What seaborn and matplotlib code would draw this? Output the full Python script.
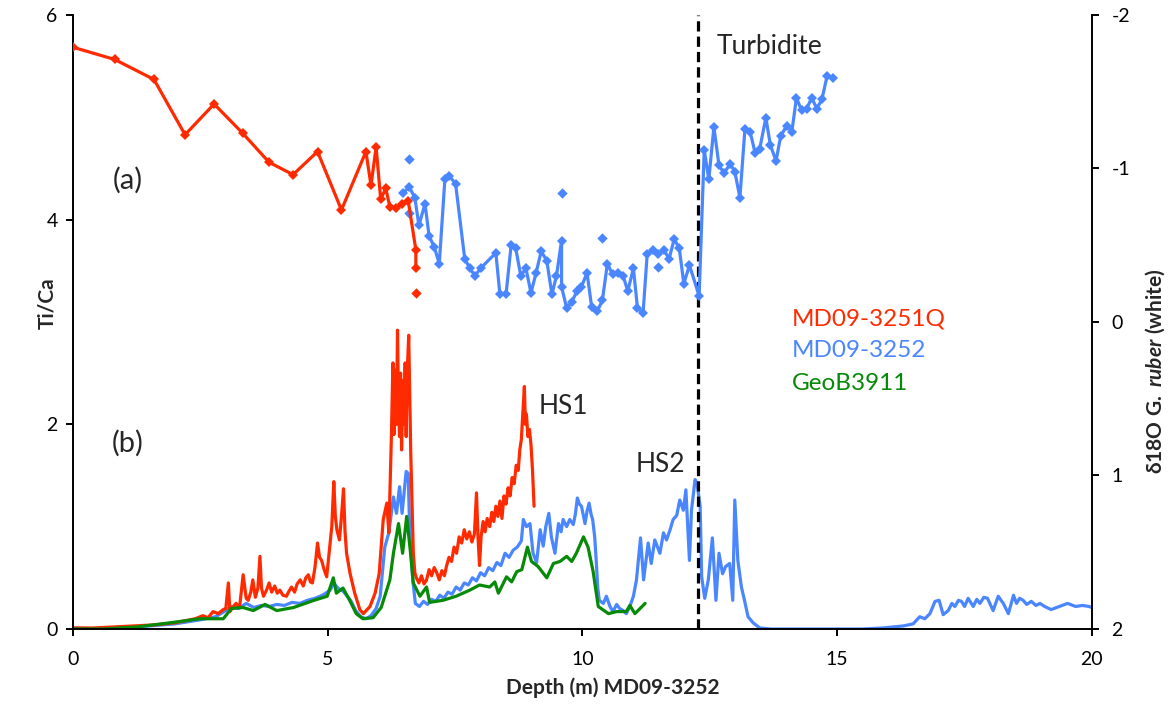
import matplotlib
matplotlib.use("Agg")
import matplotlib.pyplot as plt
import seaborn as sns

# ---------------- data ----------------
# delta18O G. ruber (right axis, top panel)
d18o_3251q_depth = [0.0, 0.82, 1.59, 2.20, 2.77, 3.33, 3.85, 4.32, 4.80, 5.27,
                    5.75, 5.85, 5.95, 6.04, 6.14, 6.22, 6.35, 6.45, 6.58, 6.73,
                    6.73]
d18o_3251q = [-1.79, -1.71, -1.58, -1.22, -1.42, -1.23, -1.04, -0.96, -1.11, -0.73,
              -1.11, -0.89, -1.14, -0.80, -0.87, -0.75, -0.74, -0.77, -0.79, -0.47,
              -0.35]
d18o_3251q_single_depth = [6.73]
d18o_3251q_single = [-0.19]

d18o_3252_depth = [6.48, 6.60, 6.71, 6.79, 6.91, 6.99, 7.09, 7.19, 7.30, 7.39,
                   7.51, 7.69, 7.79, 7.89, 8.00, 8.30, 8.38, 8.50, 8.60, 8.69,
                   8.79, 8.89, 8.99, 9.09, 9.19, 9.30, 9.40, 9.49, 9.59, 9.59,
                   9.69, 9.79, 9.89, 9.98, 10.09, 10.18, 10.29, 10.39, 10.49, 10.59,
                   10.70, 10.80, 10.89, 11.00, 11.08, 11.19, 11.27, 11.39, 11.49, 11.60,
                   11.70, 11.80, 11.90, 11.99, 12.10, 12.29, 12.39, 12.48, 12.58, 12.68,
                   12.78, 12.90, 12.99, 13.09, 13.19, 13.29, 13.39, 13.48, 13.60, 13.69,
                   13.80, 13.89, 14.01, 14.11, 14.20, 14.30, 14.40, 14.50, 14.60, 14.70,
                   14.80, 14.91]
d18o_3252 = [-0.84, -0.88, -0.81, -0.63, -0.77, -0.56, -0.49, -0.38, -0.93, -0.95,
             -0.90, -0.41, -0.35, -0.30, -0.35, -0.45, -0.18, -0.18, -0.50, -0.48,
             -0.30, -0.35, -0.19, -0.32, -0.46, -0.40, -0.18, -0.30, -0.53, -0.23,
             -0.09, -0.13, -0.20, -0.23, -0.32, -0.10, -0.07, -0.14, -0.38, -0.31,
             -0.32, -0.30, -0.20, -0.35, -0.09, -0.06, -0.44, -0.47, -0.44, -0.47,
             -0.41, -0.54, -0.48, -0.25, -0.37, -0.17, -1.12, -0.93, -1.27, -1.02,
             -0.97, -1.03, -0.98, -0.81, -1.26, -1.24, -1.10, -1.13, -1.33, -1.15,
             -1.05, -1.21, -1.28, -1.24, -1.46, -1.38, -1.39, -1.46, -1.39, -1.45,
             -1.60, -1.59]
d18o_3252_single_depth = [6.60, 6.60, 9.59, 10.39, 11.49]
d18o_3252_single = [-1.06, -0.71, -0.84, -0.55, -0.36]

# Ti/Ca (left axis, bottom panel)
tica_3251q_depth = [0.0, 0.4, 0.8, 1.2, 1.6, 2.0, 2.2, 2.4, 2.55, 2.65,
                    2.75, 2.85, 2.95, 3.0, 3.05, 3.08, 3.15, 3.2, 3.27, 3.34,
                    3.40, 3.44, 3.49, 3.53, 3.58, 3.63, 3.67, 3.70, 3.74, 3.80,
                    3.85, 3.90, 3.96, 4.01, 4.06, 4.12, 4.19, 4.24, 4.29, 4.35,
                    4.40, 4.46, 4.52, 4.57, 4.62, 4.66, 4.70, 4.75, 4.80, 4.84,
                    4.88, 4.93, 4.98, 5.04, 5.08, 5.12, 5.15, 5.18, 5.23, 5.27,
                    5.31, 5.34, 5.37, 5.44, 5.53, 5.63, 5.70, 5.83, 5.93, 6.01,
                    6.09, 6.16, 6.20, 6.25, 6.28, 6.30, 6.32, 6.35, 6.37, 6.39,
                    6.41, 6.43, 6.45, 6.48, 6.50, 6.52, 6.54, 6.56, 6.59, 6.61,
                    6.63, 6.68, 6.71, 6.74, 6.79, 6.84, 6.89, 6.94, 6.99, 7.04,
                    7.09, 7.14, 7.19, 7.24, 7.29, 7.33, 7.38, 7.43, 7.48, 7.53,
                    7.58, 7.63, 7.68, 7.73, 7.78, 7.83, 7.88, 7.92, 7.95, 7.98,
                    8.01, 8.05, 8.09, 8.13, 8.18, 8.22, 8.26, 8.30, 8.34, 8.38,
                    8.42, 8.46, 8.50, 8.54, 8.58, 8.62, 8.66, 8.70, 8.74, 8.77,
                    8.80, 8.83, 8.86, 8.88, 8.90, 8.93, 8.96, 8.99, 9.02, 9.05]
tica_3251q = [0.01, 0.01, 0.02, 0.03, 0.04, 0.06, 0.08, 0.10, 0.13, 0.11,
              0.17, 0.15, 0.19, 0.20, 0.45, 0.17, 0.22, 0.25, 0.21, 0.53,
              0.30, 0.28, 0.36, 0.48, 0.31, 0.40, 0.71, 0.40, 0.32, 0.38,
              0.45, 0.36, 0.42, 0.35, 0.38, 0.33, 0.32, 0.37, 0.41, 0.36,
              0.44, 0.48, 0.42, 0.50, 0.53, 0.46, 0.45, 0.60, 0.84, 0.70,
              0.67, 0.58, 0.51, 0.80, 1.00, 1.44, 1.10, 0.97, 0.87, 1.10,
              1.37, 0.95, 0.74, 0.54, 0.35, 0.19, 0.15, 0.22, 0.35, 0.54,
              1.07, 1.23, 0.94, 1.88, 2.60, 1.90, 2.53, 2.00, 2.92, 2.20,
              1.88, 2.50, 1.75, 2.43, 2.00, 2.60, 1.88, 2.50, 2.87, 2.30,
              1.72, 0.74, 0.55, 0.50, 0.45, 0.52, 0.44, 0.48, 0.58, 0.52,
              0.60, 0.55, 0.48, 0.57, 0.52, 0.61, 0.70, 0.66, 0.80, 0.74,
              0.90, 0.84, 0.97, 0.88, 0.95, 0.85, 0.93, 1.33, 0.90, 0.62,
              0.90, 1.05, 0.95, 1.08, 1.00, 1.14, 1.05, 1.20, 1.10, 1.25,
              1.08, 1.30, 1.22, 1.38, 1.30, 1.48, 1.42, 1.60, 1.55, 1.75,
              1.85, 2.11, 2.37, 2.00, 2.10, 1.88, 1.95, 1.80, 1.55, 1.20]

tica_3252_depth = [0.0, 0.5, 1.0, 1.5, 2.0, 2.5, 2.8, 3.0, 3.1, 3.25,
                   3.4, 3.55, 3.7, 3.85, 4.0, 4.15, 4.3, 4.45, 4.6, 4.75,
                   4.9, 5.05, 5.12, 5.2, 5.3, 5.45, 5.55, 5.65, 5.75, 5.85,
                   5.95, 6.03, 6.12, 6.2, 6.29, 6.35, 6.41, 6.46, 6.54, 6.58,
                   6.61, 6.67, 6.72, 6.80, 6.88, 6.96, 7.04, 7.12, 7.20, 7.28,
                   7.36, 7.44, 7.52, 7.60, 7.68, 7.76, 7.84, 7.92, 8.00, 8.08,
                   8.16, 8.24, 8.32, 8.40, 8.48, 8.56, 8.64, 8.72, 8.80, 8.84,
                   8.90, 8.97, 9.03, 9.10, 9.17, 9.23, 9.28, 9.34, 9.39, 9.46,
                   9.53, 9.58, 9.62, 9.69, 9.75, 9.82, 9.86, 9.90, 9.94, 9.98,
                   10.02, 10.05, 10.09, 10.13, 10.17, 10.20, 10.24, 10.27, 10.30, 10.33,
                   10.41, 10.47, 10.54, 10.60, 10.67, 10.73, 10.80, 10.86, 10.93, 11.00,
                   11.06, 11.14, 11.20, 11.29, 11.35, 11.42, 11.52, 11.59, 11.65, 11.72,
                   11.78, 11.85, 11.91, 11.98, 12.03, 12.10, 12.14, 12.21, 12.25, 12.31,
                   12.34, 12.40, 12.47, 12.55, 12.62, 12.68, 12.75, 12.81, 12.89, 12.95,
                   12.99, 13.05, 13.12, 13.18, 13.25, 13.35, 13.48, 13.7, 14.0, 14.5,
                   15.0, 15.5, 15.9, 16.1, 16.3, 16.49, 16.62, 16.72, 16.82, 16.92,
                   17.0, 17.08, 17.18, 17.25, 17.31, 17.38, 17.44, 17.50, 17.57, 17.67,
                   17.74, 17.8, 17.88, 17.95, 18.06, 18.16, 18.26, 18.36, 18.46, 18.52,
                   18.58, 18.65, 18.72, 18.81, 18.90, 18.98, 19.07, 19.2, 19.36, 19.52,
                   19.68, 19.81, 19.94, 20.0]
tica_3252 = [0.01, 0.0, 0.01, 0.03, 0.05, 0.09, 0.12, 0.18, 0.22, 0.20,
             0.25, 0.21, 0.23, 0.22, 0.24, 0.23, 0.26, 0.25, 0.28, 0.30,
             0.33, 0.38, 0.45, 0.40, 0.37, 0.28, 0.18, 0.12, 0.10, 0.13,
             0.20, 0.32, 0.80, 0.94, 1.29, 1.13, 1.39, 1.13, 1.54, 1.52,
             0.94, 0.48, 0.25, 0.22, 0.27, 0.24, 0.29, 0.27, 0.33, 0.30,
             0.36, 0.34, 0.41, 0.38, 0.45, 0.43, 0.50, 0.47, 0.55, 0.52,
             0.60, 0.57, 0.65, 0.62, 0.74, 0.70, 0.77, 0.80, 0.86, 1.07,
             1.00, 1.03, 0.74, 0.65, 0.97, 0.81, 1.00, 1.13, 0.90, 0.74,
             1.03, 0.95, 1.07, 1.00, 1.07, 1.02, 1.12, 1.28, 1.22, 1.20,
             1.10, 1.03, 1.15, 1.23, 1.12, 1.07, 0.90, 0.67, 0.40, 0.28,
             0.25, 0.32, 0.22, 0.17, 0.24, 0.20, 0.18, 0.15, 0.22, 0.32,
             0.48, 0.89, 0.48, 0.84, 0.64, 0.87, 0.74, 0.94, 0.87, 0.97,
             1.07, 1.11, 1.26, 1.16, 1.36, 0.67, 1.16, 1.46, 1.42, 1.20,
             0.51, 0.30, 0.48, 0.89, 0.28, 0.74, 0.54, 0.61, 0.64, 0.28,
             1.26, 0.67, 0.41, 0.28, 0.12, 0.06, 0.01, 0.0, 0.0, 0.0,
             0.0, 0.0, 0.01, 0.02, 0.03, 0.05, 0.12, 0.10, 0.15, 0.27,
             0.28, 0.14, 0.18, 0.25, 0.22, 0.28, 0.27, 0.22, 0.30, 0.22,
             0.29, 0.25, 0.31, 0.30, 0.18, 0.32, 0.25, 0.15, 0.33, 0.25,
             0.30, 0.28, 0.24, 0.27, 0.23, 0.25, 0.22, 0.19, 0.22, 0.25,
             0.22, 0.23, 0.22, 0.21]

tica_geob_depth = [0.0, 0.6, 1.25, 1.9, 2.49, 2.95, 3.11, 3.34, 3.54, 3.77,
                   4.0, 4.33, 4.73, 4.99, 5.11, 5.17, 5.3, 5.43, 5.56, 5.69,
                   5.89, 6.05, 6.22, 6.29, 6.39, 6.47, 6.55, 6.62, 6.68, 6.81,
                   6.94, 7.0, 7.26, 7.52, 7.79, 7.98, 8.18, 8.28, 8.35, 8.51,
                   8.61, 8.71, 8.81, 8.92, 9.0, 9.13, 9.3, 9.43, 9.56, 9.69,
                   9.79, 9.88, 10.02, 10.11, 10.21, 10.31, 10.51, 10.67, 10.86, 10.93,
                   11.03, 11.23]
tica_geob = [0.0, 0.0, 0.02, 0.06, 0.10, 0.10, 0.20, 0.21, 0.18, 0.24,
             0.18, 0.21, 0.28, 0.32, 0.50, 0.35, 0.40, 0.28, 0.15, 0.10,
             0.11, 0.21, 0.48, 0.74, 1.03, 0.74, 1.10, 0.77, 0.45, 0.32,
             0.41, 0.26, 0.28, 0.32, 0.38, 0.43, 0.41, 0.46, 0.35, 0.51,
             0.46, 0.56, 0.58, 0.80, 0.66, 0.61, 0.50, 0.64, 0.66, 0.71,
             0.66, 0.74, 0.90, 0.80, 0.56, 0.22, 0.15, 0.17, 0.17, 0.23,
             0.15, 0.25]

turbidite_depth = 12.27
x_ticks = [0, 5, 10, 15, 20]
tica_ticks = [0, 2, 4, 6]
d18o_ticks = [-2, -1, 0, 1, 2]

RED = "#FF2A00"
BLUE = "#4A86FF"
GREEN = "#078A07"

# ---------------- style ----------------
sns.set_style("ticks")
plt.rcParams["font.family"] = ["Lato", "DejaVu Sans"]
plt.rcParams["mathtext.fontset"] = "custom"
plt.rcParams["mathtext.rm"] = "Lato"
plt.rcParams["mathtext.bf"] = "Lato:bold"
plt.rcParams["mathtext.it"] = "Lato:italic"
plt.rcParams["mathtext.bfit"] = "Lato:bold:italic"
plt.rcParams["mathtext.fallback"] = "stixsans"

fig = plt.figure(figsize=(11.73, 7.10), dpi=100)
ax = fig.add_axes([0.0622, 0.1141, 0.8687, 0.8648])
ax2 = ax.twinx()

lw = 2.3
# Ti/Ca series
sns.lineplot(x=tica_3252_depth, y=tica_3252, ax=ax, color=BLUE, lw=lw,
             sort=False, estimator=None, legend=False)
sns.lineplot(x=tica_3251q_depth, y=tica_3251q, ax=ax, color=RED, lw=lw,
             sort=False, estimator=None, legend=False)
sns.lineplot(x=tica_geob_depth, y=tica_geob, ax=ax, color=GREEN, lw=lw,
             sort=False, estimator=None, legend=False)

# delta18O series
sns.lineplot(x=d18o_3251q_depth, y=d18o_3251q, ax=ax2, color=RED, lw=lw,
             marker="D", markersize=5, markeredgewidth=0,
             sort=False, estimator=None, legend=False)
sns.scatterplot(x=d18o_3251q_single_depth, y=d18o_3251q_single, ax=ax2,
                color=RED, marker="D", s=28, linewidth=0, legend=False)
sns.lineplot(x=d18o_3252_depth, y=d18o_3252, ax=ax2, color=BLUE, lw=lw,
             marker="D", markersize=5, markeredgewidth=0,
             sort=False, estimator=None, legend=False)
sns.scatterplot(x=d18o_3252_single_depth, y=d18o_3252_single, ax=ax2,
                color=BLUE, marker="D", s=28, linewidth=0, legend=False)

# turbidite line
ax.axvline(turbidite_depth, color="black", lw=2.3, ls=(0, (3.2, 1.6)), zorder=5)

# axes setup
ax.set_xlim(0, 20)
ax.set_ylim(0, 6)
ax.set_xticks(x_ticks)
ax.set_yticks(tica_ticks)
ax2.set_ylim(2, -2)
ax2.set_yticks(d18o_ticks)
ax2.set_yticklabels([str(t) for t in d18o_ticks])

for a in (ax, ax2):
    a.spines["top"].set_visible(False)
    for s in ("left", "right", "bottom"):
        a.spines[s].set_linewidth(1.4)
        a.spines[s].set_color("black")
    a.tick_params(axis="both", direction="out", length=5, width=1.4,
                  labelsize=14, colors="black", pad=6)
ax.tick_params(axis="x", pad=11)
ax2.tick_params(axis="y", pad=9)
ax.spines["right"].set_visible(False)
ax2.spines["left"].set_visible(False)
ax2.spines["bottom"].set_visible(False)

ax.set_xlabel("Depth (m) MD09-3252", fontsize=15, fontweight="bold")
ax.xaxis.label.set_va("center")
ax.xaxis.set_label_coords(0.53, -0.096)
ax.set_ylabel("Ti/Ca", fontsize=15, fontweight="bold")
ax.yaxis.label.set_va("center")
ax.yaxis.set_label_coords(-0.0255, 0.53)
ax2.set_ylabel(r"$\mathbf{δ18O\ G.\ }\mathbfit{ruber}\mathbf{\ (white)}$",
               fontsize=15)
ax2.yaxis.label.set_va("center")
ax2.yaxis.set_label_coords(1.0618, 0.42)

# annotations
ax.text(1.08, 4.38, "(a)", fontsize=21, ha="center", va="center")
ax.text(1.08, 1.81, "(b)", fontsize=21, ha="center", va="center")
ax.text(12.64, 5.69, "Turbidite", fontsize=19, ha="left", va="center")
ax.text(9.13, 2.17, "HS1", fontsize=19, ha="left", va="center")
ax.text(11.05, 1.61, "HS2", fontsize=19, ha="left", va="center")
ax.text(14.11, 3.03, "MD09-3251Q", fontsize=17.5, color=RED, ha="left", va="center")
ax.text(14.11, 2.72, "MD09-3252", fontsize=17.5, color=BLUE, ha="left", va="center")
ax.text(14.11, 2.40, "GeoB3911", fontsize=17.5, color=GREEN, ha="left", va="center")

fig.savefig("out.png", dpi=100)
